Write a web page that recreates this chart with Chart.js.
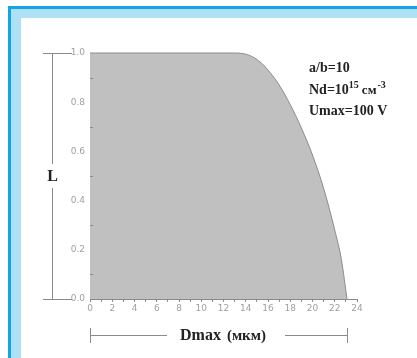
<!DOCTYPE html>
<html>
<head>
<meta charset="utf-8">
<script src="https://cdn.jsdelivr.net/npm/chart.js@4"></script>
<style>
  html, body { margin: 0; padding: 0; overflow: hidden; background: #fff; }
  #chart { display: block; }
</style>
</head>
<body>
<canvas id="chart" width="417" height="358"></canvas>
<script>
// Dmax (мкм) vs L
const dmax = [0, 13.0, 14.0, 14.8, 15.5, 16.2, 17.0, 18.0, 19.0, 20.0, 21.0, 22.0, 22.6, 23.1];
const lval = [1.0, 1.0, 0.995, 0.98, 0.955, 0.92, 0.87, 0.79, 0.695, 0.585, 0.45, 0.28, 0.16, 0.0];

const xTicks = [0, 2, 4, 6, 8, 10, 12, 14, 16, 18, 20, 22, 24];
const yTicks = [0.0, 0.2, 0.4, 0.6, 0.8, 1.0];

const noteLines = ['a/b=10', 'Nd=10', 'Umax=100 V'];

const SERIF = '"Liberation Serif", "DejaVu Serif", serif';
const GREY = '#8a8a8a';

// blue page frame behind the chart
const frame = {
  id: 'frame',
  beforeDraw(chart) {
    const ctx = chart.ctx;
    ctx.save();
    ctx.fillStyle = '#fff';
    ctx.fillRect(0, 0, chart.width, chart.height);
    ctx.fillStyle = '#12a6e4';
    ctx.fillRect(8, 6, chart.width, chart.height);
    ctx.fillStyle = '#aee0f6';
    ctx.fillRect(11, 9, chart.width, chart.height);
    ctx.fillStyle = '#fff';
    ctx.fillRect(21, 18, chart.width, chart.height);
    ctx.restore();
  }
};

// brackets, L / Dmax labels and the little parameter box
const extras = {
  id: 'extras',
  afterDraw(chart) {
    const ctx = chart.ctx;
    const xs = chart.scales.x, ys = chart.scales.y;
    const yTop = ys.getPixelForValue(1), yBot = ys.getPixelForValue(0);
    const x0 = xs.getPixelForValue(0), xEnd = xs.getPixelForValue(dmax[dmax.length - 1]);
    ctx.save();
    ctx.strokeStyle = GREY;
    ctx.lineWidth = 1;

    // minor marks inside the y axis
    ctx.beginPath();
    for (let v = 0.1; v < 1; v += 0.2) {
      const py = Math.round(ys.getPixelForValue(v)) + 0.5;
      ctx.moveTo(x0, py); ctx.lineTo(x0 + 3, py);
    }
    ctx.stroke();

    // L bracket
    const bx = 52.5, yMid = ys.getPixelForValue(0.5);
    ctx.beginPath();
    ctx.moveTo(43, Math.round(yTop) + 0.5); ctx.lineTo(72, Math.round(yTop) + 0.5);
    ctx.moveTo(43, Math.round(yBot) + 0.5); ctx.lineTo(72, Math.round(yBot) + 0.5);
    ctx.moveTo(bx, yTop); ctx.lineTo(bx, yMid - 12);
    ctx.moveTo(bx, yMid + 12); ctx.lineTo(bx, yBot);
    ctx.stroke();

    ctx.fillStyle = '#222';
    ctx.font = 'bold 16px ' + SERIF;
    ctx.textAlign = 'center';
    ctx.textBaseline = 'middle';
    ctx.fillText('L', bx, yMid + 1);

    // Dmax bracket
    const by = 335.5;
    ctx.beginPath();
    ctx.moveTo(Math.round(x0) + 0.5, 328); ctx.lineTo(Math.round(x0) + 0.5, 343);
    ctx.moveTo(Math.round(xEnd) + 0.5, 328); ctx.lineTo(Math.round(xEnd) + 0.5, 343);
    ctx.moveTo(x0, by); ctx.lineTo(167, by);
    ctx.moveTo(285, by); ctx.lineTo(xEnd, by);
    ctx.stroke();

    ctx.textAlign = 'left';
    ctx.textBaseline = 'alphabetic';
    ctx.font = 'bold 16px ' + SERIF;
    ctx.fillText('Dmax', 180, 340);
    const w = ctx.measureText('Dmax').width;
    ctx.font = 'bold 15px ' + SERIF;
    ctx.fillText('(мкм)', 180 + w + 6, 340);

    // parameter notes
    ctx.font = 'bold 14px ' + SERIF;
    ctx.fillText(noteLines[0], 309, 72);
    ctx.fillText(noteLines[1], 309, 94);
    let nx = 309 + ctx.measureText(noteLines[1]).width;
    ctx.font = 'bold 10px ' + SERIF;
    ctx.fillText('15', nx, 88);
    nx += ctx.measureText('15').width + 3;
    ctx.font = 'bold 13px ' + SERIF;
    ctx.fillText('см', nx, 94);
    nx += ctx.measureText('см').width + 1;
    ctx.font = 'bold 10px ' + SERIF;
    ctx.fillText('-3', nx, 88);
    ctx.font = 'bold 14px ' + SERIF;
    ctx.fillText(noteLines[2], 309, 115);
    ctx.restore();
  }
};

new Chart(document.getElementById('chart'), {
  type: 'line',
  data: {
    datasets: [{
      data: dmax.map((d, i) => ({ x: d, y: lval[i] })),
      fill: 'origin',
      backgroundColor: '#c0c0c0',
      borderColor: '#8c8c8c',
      borderWidth: 1,
      pointRadius: 0,
      cubicInterpolationMode: 'monotone',
      clip: false
    }]
  },
  options: {
    responsive: false,
    animation: false,
    layout: { padding: { left: 60, right: 60, top: 53, bottom: 39 } },
    plugins: { legend: { display: false }, tooltip: { enabled: false } },
    scales: {
      x: {
        type: 'linear', min: 0, max: 24,
        afterFit(s) { s.height = 20; s.paddingLeft = 0; s.paddingRight = 0; },
        afterBuildTicks(s) {
          s.ticks = [];
          for (let v = 0; v <= 24; v++) s.ticks.push({ value: v });
        },
        ticks: {
          autoSkip: false, maxRotation: 0, padding: 1,
          color: '#a0a0a0',
          font: { family: '"DejaVu Sans", sans-serif', size: 9 },
          callback: v => xTicks.includes(v) ? String(v) : ''
        },
        grid: { drawOnChartArea: false, tickLength: 3, color: GREY },
        border: { color: GREY }
      },
      y: {
        min: 0, max: 1,
        afterFit(s) { s.width = 30; s.paddingTop = 0; s.paddingBottom = 0; },
        afterBuildTicks(s) { s.ticks = yTicks.map(v => ({ value: v })); },
        ticks: {
          padding: 5,
          color: '#a0a0a0',
          font: { family: '"DejaVu Sans", sans-serif', size: 9 },
          callback: v => v.toFixed(1)
        },
        grid: { display: true, drawOnChartArea: false, drawTicks: false, color: GREY },
        border: { color: GREY }
      }
    }
  },
  plugins: [frame, extras]
});
</script>
</body>
</html>
